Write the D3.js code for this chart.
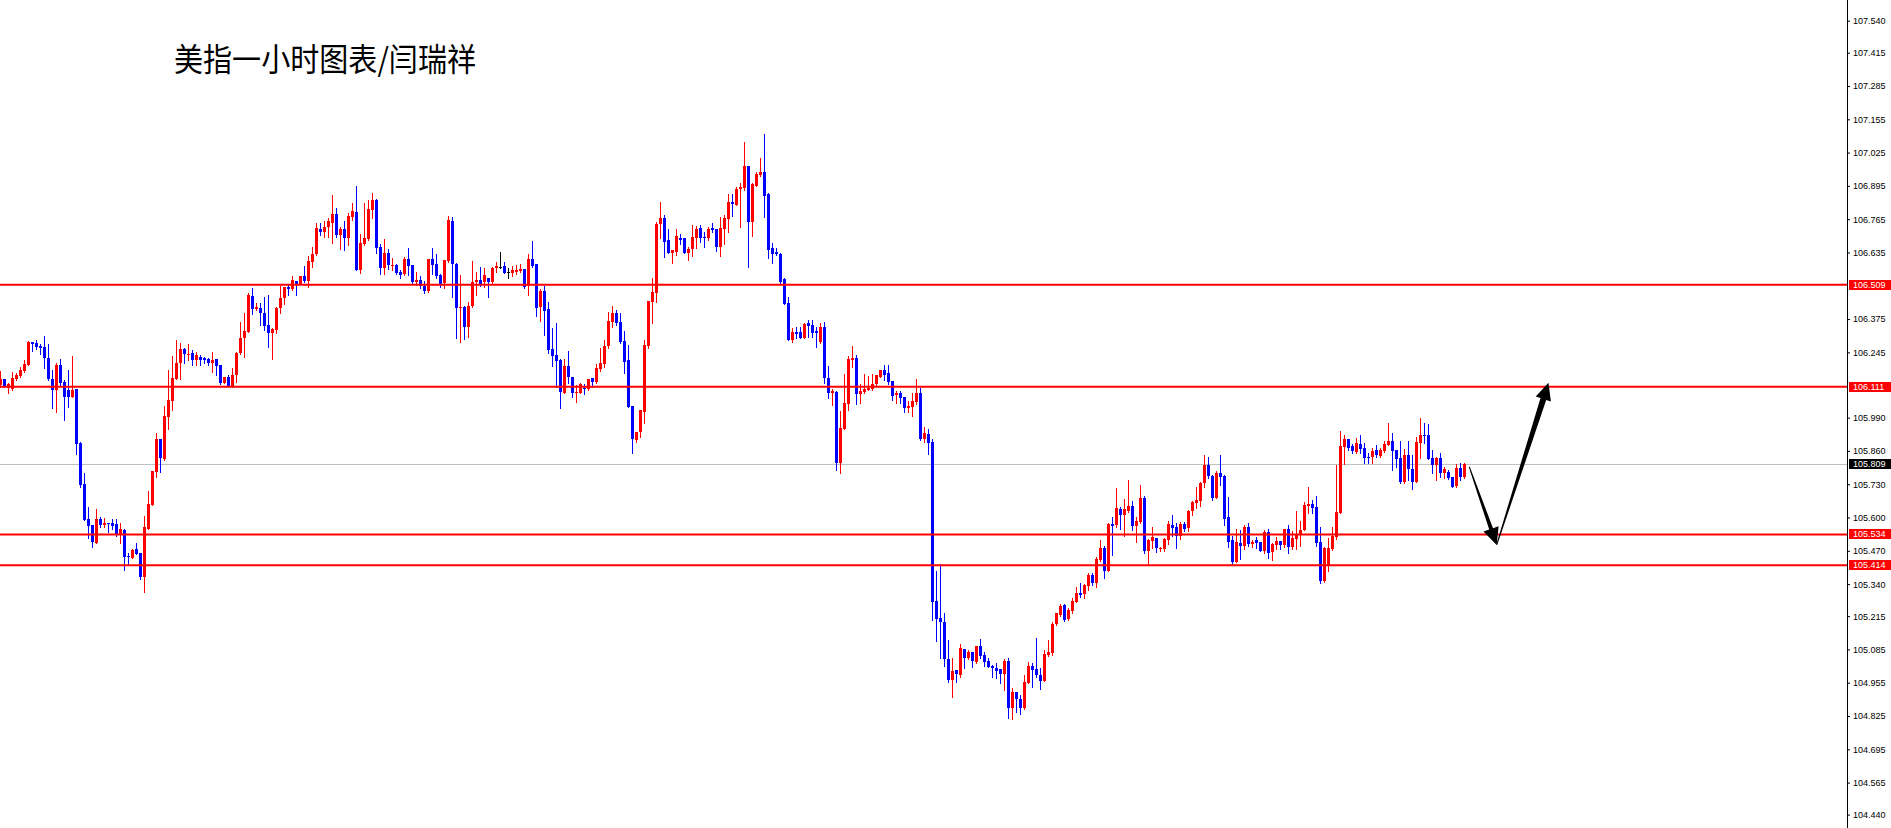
<!DOCTYPE html>
<html><head><meta charset="utf-8">
<script src="https://cdn.jsdelivr.net/npm/d3@7"></script>
<style>html,body{margin:0;padding:0;background:#fff;overflow:hidden}</style>
</head><body>
<svg id="chart" width="1891" height="828"></svg>
<script>
const chartTitle = "美指一小时图表/闫瑞祥";

const openP = [
106.117,106.142,106.104,106.100,106.141,106.152,106.173,106.197,106.284,106.280,
106.271,106.267,106.223,106.141,106.098,106.195,106.128,106.098,106.072,106.102,
105.892,105.731,105.594,105.571,105.502,105.594,105.571,105.578,105.577,105.573,
105.530,105.551,105.450,105.443,105.477,105.463,105.369,105.555,105.650,105.779,
105.906,105.830,105.994,106.056,106.142,106.202,106.258,106.236,106.241,106.215,
106.226,106.222,106.219,106.205,106.218,106.196,106.127,106.150,106.114,106.157,
106.241,106.300,106.326,106.466,106.416,106.419,106.400,106.352,106.322,106.332,
106.419,106.456,106.501,106.492,106.524,106.512,106.543,106.524,106.599,106.628,
106.727,106.716,106.733,106.751,106.785,106.703,106.727,106.693,106.775,106.794,
106.567,106.667,106.686,106.801,106.840,106.655,106.573,106.634,106.582,106.586,
106.559,106.551,106.609,106.586,106.521,106.528,106.504,106.486,106.608,106.590,
106.547,106.515,106.602,106.758,106.590,106.420,106.423,106.345,106.426,106.521,
106.528,106.519,106.534,106.521,106.573,106.580,106.582,106.559,106.556,106.560,
106.563,106.569,106.504,106.608,106.590,106.421,106.486,106.414,106.258,106.235,
106.215,106.088,106.192,106.148,106.088,106.088,106.105,106.101,106.144,106.131,
106.179,106.200,106.270,106.365,106.397,106.365,106.289,106.215,106.035,105.903,
105.933,106.013,106.270,106.443,106.478,106.745,106.768,106.684,106.634,106.638,
106.690,106.693,106.634,106.647,106.693,106.729,106.697,106.690,106.732,106.727,
106.658,106.725,106.766,106.831,106.820,106.881,106.888,106.973,106.755,106.896,
106.937,106.948,106.863,106.651,106.638,106.629,106.531,106.436,106.293,106.323,
106.323,106.300,106.358,106.350,106.330,106.287,106.345,106.143,106.085,106.091,
105.814,105.945,106.043,106.215,106.221,106.081,106.091,106.098,106.100,106.120,
106.150,106.178,106.163,106.133,106.078,106.087,106.072,106.029,106.033,106.052,
106.085,105.905,105.925,105.896,105.274,105.206,105.191,105.046,104.966,105.005,
104.985,105.087,105.050,105.074,105.037,105.098,105.063,105.040,105.020,105.014,
105.007,104.988,105.041,104.855,104.917,104.891,104.857,104.955,105.020,105.008,
104.985,104.963,105.063,105.072,105.183,105.219,105.258,105.202,105.236,105.271,
105.304,105.300,105.334,105.376,105.346,105.434,105.482,105.392,105.575,105.571,
105.632,105.610,105.625,105.645,105.568,105.584,105.675,105.469,105.508,105.519,
105.476,105.477,105.512,105.571,105.562,105.528,105.575,105.558,105.625,105.658,
105.666,105.734,105.805,105.763,105.678,105.773,105.762,105.601,105.512,105.428,
105.499,105.490,105.562,105.497,105.512,105.503,105.471,105.542,105.467,105.493,
105.508,105.493,105.555,105.486,105.516,105.532,105.551,105.645,105.653,105.640,
105.503,105.352,105.411,105.476,105.525,105.619,105.877,105.907,105.879,105.857,
105.887,105.870,105.838,105.835,105.864,105.842,105.860,105.883,105.899,105.864,
105.831,105.740,105.844,105.790,105.740,105.892,105.922,105.922,105.831,105.805,
105.834,105.773,105.778,105.757,105.723,105.792,105.757];

const highP = [
106.171,106.142,106.124,106.167,106.165,106.189,106.217,106.289,106.284,106.293,
106.277,106.309,106.277,106.176,106.202,106.219,106.137,106.176,106.230,106.102,
105.896,105.772,105.642,105.571,105.632,105.603,105.597,105.578,105.594,105.594,
105.580,105.554,105.463,105.476,105.499,105.463,105.607,105.703,105.781,105.930,
105.906,106.035,106.178,106.230,106.293,106.283,106.263,106.277,106.254,106.248,
106.235,106.228,106.222,106.245,106.218,106.196,106.150,106.157,106.183,106.248,
106.365,106.397,106.478,106.498,106.439,106.436,106.460,106.469,106.339,106.423,
106.504,106.501,106.508,106.544,106.524,106.543,106.582,106.621,106.658,106.749,
106.749,106.759,106.768,106.861,106.807,106.733,106.758,106.788,106.827,106.896,
106.707,106.827,106.840,106.869,106.844,106.668,106.686,106.647,106.612,106.590,
106.567,106.616,106.651,106.586,106.560,106.543,106.524,106.608,106.654,106.629,
106.551,106.606,106.778,106.772,106.593,106.547,106.426,106.443,106.602,106.560,
106.580,106.573,106.534,106.580,106.599,106.637,106.599,106.576,106.582,106.586,
106.590,106.569,106.629,106.680,106.590,106.492,106.505,106.443,106.341,106.361,
106.218,106.218,106.250,106.148,106.118,106.124,106.121,106.140,106.144,106.200,
106.261,106.293,106.401,106.426,106.410,106.400,106.328,106.274,106.035,105.935,
106.020,106.293,106.445,106.534,106.755,106.831,106.781,106.727,106.645,106.727,
106.707,106.693,106.658,106.742,106.740,106.742,106.714,106.736,106.749,106.727,
106.772,106.781,106.862,106.862,106.892,106.907,107.068,106.973,106.905,106.950,
107.003,107.098,106.866,106.671,106.654,106.632,106.534,106.462,106.341,106.345,
106.345,106.361,106.371,106.372,106.345,106.360,106.362,106.191,106.100,106.094,
106.016,106.159,106.230,106.270,106.234,106.121,106.159,106.152,106.159,106.156,
106.178,106.195,106.195,106.133,106.094,106.094,106.072,106.055,106.085,106.141,
106.104,105.952,105.944,105.905,105.391,105.419,105.229,105.122,105.050,105.005,
105.106,105.087,105.083,105.076,105.098,105.126,105.076,105.050,105.024,105.031,
105.007,105.046,105.050,104.936,104.917,104.907,104.985,105.035,105.031,105.128,
105.014,105.083,105.122,105.193,105.226,105.262,105.262,105.245,105.284,105.330,
105.343,105.340,105.382,105.385,105.445,105.512,105.489,105.580,105.601,105.717,
105.642,105.672,105.746,105.665,105.601,105.727,105.684,105.516,105.562,105.519,
105.486,105.519,105.588,105.610,105.577,105.584,105.584,105.629,105.666,105.718,
105.740,105.844,105.835,105.766,105.783,105.844,105.766,105.679,105.528,105.555,
105.551,105.571,105.577,105.512,105.523,105.506,105.551,105.554,105.499,105.523,
105.508,105.555,105.571,105.549,105.626,105.586,105.659,105.718,105.669,105.684,
105.562,105.486,105.519,105.564,105.805,105.938,105.922,105.907,105.886,105.909,
105.922,105.890,105.851,105.870,105.883,105.870,105.900,105.970,105.931,105.864,
105.900,105.866,105.899,105.844,105.916,105.987,105.970,105.964,105.864,105.838,
105.851,105.799,105.786,105.760,105.809,105.812,105.812];

const lowP = [
106.111,106.111,106.085,106.098,106.137,106.147,106.169,106.197,106.251,106.257,
106.238,106.182,106.137,106.029,106.013,106.117,105.981,106.033,106.072,105.850,
105.718,105.590,105.522,105.483,105.499,105.564,105.564,105.545,105.554,105.528,
105.499,105.397,105.414,105.443,105.456,105.361,105.310,105.555,105.650,105.757,
105.779,105.824,105.947,106.020,106.141,106.139,106.202,106.217,106.196,106.196,
106.196,106.202,106.196,106.170,106.157,106.121,106.124,106.114,106.111,106.131,
106.239,106.226,106.326,106.395,106.410,106.352,106.332,106.265,106.219,106.322,
106.400,106.432,106.469,106.488,106.469,106.512,106.521,106.499,106.577,106.625,
106.703,106.697,106.694,106.671,106.694,106.649,106.645,106.664,106.762,106.567,
106.554,106.664,106.684,106.768,106.632,106.550,106.551,106.569,106.567,106.551,
106.534,106.547,106.547,106.512,106.508,106.495,106.478,106.482,106.551,106.537,
106.499,106.495,106.599,106.463,106.302,106.287,106.296,106.306,106.421,106.469,
106.504,106.502,106.463,106.517,106.560,106.573,106.556,106.537,106.543,106.550,
106.560,106.498,106.469,106.580,106.387,106.369,106.313,106.241,106.193,106.111,
106.029,106.085,106.124,106.072,106.053,106.085,106.082,106.098,106.111,106.124,
106.172,106.189,106.261,106.345,106.352,106.280,106.166,106.033,105.853,105.896,
105.916,105.968,106.263,106.358,106.443,106.693,106.619,106.632,106.593,106.625,
106.667,106.632,106.605,106.621,106.654,106.677,106.658,106.684,106.716,106.641,
106.621,106.668,106.716,106.779,106.820,106.733,106.879,106.580,106.701,106.895,
106.934,106.775,106.615,106.593,106.625,106.517,106.434,106.293,106.284,106.300,
106.300,106.300,106.306,106.306,106.264,106.280,106.126,106.065,106.039,105.785,
105.775,105.945,106.020,106.189,106.043,106.046,106.085,106.098,106.098,106.117,
106.150,106.137,106.121,106.059,106.048,106.048,106.013,106.013,105.997,106.043,
105.902,105.893,105.850,105.200,105.119,105.050,105.020,104.959,104.901,104.959,
104.976,105.011,105.046,105.018,105.031,105.050,105.020,105.015,104.979,104.972,
104.955,104.926,104.816,104.812,104.842,104.831,104.851,104.953,104.940,104.979,
104.929,104.963,105.059,105.063,105.180,105.217,105.197,105.200,105.226,105.269,
105.288,105.284,105.317,105.337,105.330,105.432,105.363,105.392,105.454,105.562,
105.554,105.529,105.623,105.551,105.506,105.577,105.460,105.415,105.480,105.467,
105.471,105.471,105.495,105.528,105.482,105.515,105.549,105.549,105.610,105.636,
105.645,105.721,105.756,105.669,105.678,105.727,105.571,105.486,105.415,105.428,
105.437,105.477,105.490,105.486,105.482,105.471,105.460,105.441,105.434,105.476,
105.476,105.486,105.463,105.476,105.476,105.489,105.551,105.619,105.619,105.489,
105.343,105.350,105.393,105.473,105.515,105.619,105.809,105.864,105.851,105.851,
105.853,105.814,105.814,105.814,105.838,105.838,105.857,105.883,105.786,105.796,
105.734,105.734,105.747,105.710,105.737,105.831,105.890,105.827,105.775,105.747,
105.757,105.753,105.750,105.718,105.721,105.747,105.753];

const closeP = [
106.139,106.115,106.120,106.143,106.156,106.176,106.199,106.284,106.277,106.267,
106.263,106.221,106.139,106.098,106.195,106.124,106.072,106.072,106.098,105.889,
105.727,105.590,105.567,105.503,105.594,105.571,105.580,105.573,105.567,105.532,
105.555,105.447,105.446,105.473,105.457,105.369,105.563,105.653,105.781,105.906,
105.834,105.996,106.059,106.143,106.204,106.260,106.237,106.239,106.215,106.235,
106.215,106.215,106.205,106.215,106.193,106.127,106.150,106.114,106.157,106.244,
106.302,106.330,106.469,106.414,106.423,106.397,106.349,106.319,106.336,106.419,
106.459,106.501,106.492,106.527,106.512,106.543,106.525,106.603,106.629,106.732,
106.716,106.736,106.759,106.785,106.703,106.728,106.693,106.777,106.797,106.567,
106.671,106.690,106.805,106.840,106.654,106.573,106.634,106.586,106.586,106.556,
106.547,106.609,106.583,106.521,106.528,106.504,106.486,106.608,106.586,106.543,
106.512,106.606,106.762,106.589,106.420,106.423,106.345,106.426,106.521,106.528,
106.511,106.547,106.521,106.573,106.582,106.580,106.556,106.559,106.567,106.567,
106.569,106.502,106.608,106.584,106.420,106.486,106.408,106.254,106.232,106.211,
106.092,106.192,106.148,106.088,106.092,106.120,106.101,106.140,106.131,106.183,
106.202,106.270,106.368,106.397,106.361,106.284,106.209,106.033,105.905,105.935,
106.020,106.274,106.445,106.482,106.746,106.768,106.677,106.634,106.645,106.699,
106.684,106.634,106.647,106.694,106.727,106.693,106.690,106.727,106.723,106.658,
106.732,106.768,106.831,106.824,106.883,106.892,106.973,106.755,106.901,106.940,
106.950,106.857,106.645,106.629,106.628,106.521,106.434,106.293,106.323,106.315,
106.300,106.354,106.348,106.322,106.322,106.345,106.143,106.085,106.094,105.814,
105.948,106.046,106.219,106.221,106.081,106.094,106.100,106.104,106.121,106.156,
106.176,106.156,106.130,106.076,106.087,106.068,106.029,106.035,106.055,106.085,
105.906,105.929,105.892,105.269,105.203,105.193,105.046,104.966,105.001,104.988,
105.092,105.053,105.074,105.040,105.098,105.059,105.037,105.018,105.011,105.002,
104.988,105.041,104.857,104.917,104.890,104.857,104.956,105.020,105.005,104.985,
104.963,105.067,105.076,105.184,105.226,105.256,105.200,105.239,105.274,105.304,
105.297,105.336,105.376,105.343,105.438,105.482,105.392,105.575,105.567,105.636,
105.610,105.633,105.645,105.568,105.586,105.675,105.471,105.512,105.525,105.480,
105.482,105.516,105.575,105.560,105.529,105.575,105.555,105.625,105.662,105.669,
105.736,105.805,105.763,105.675,105.773,105.760,105.594,105.506,105.428,105.503,
105.490,105.562,105.497,105.503,105.502,105.471,105.542,105.463,105.495,105.508,
105.493,105.555,105.486,105.519,105.534,105.551,105.649,105.653,105.639,105.502,
105.353,105.482,105.482,105.528,105.623,105.879,105.907,105.870,105.861,105.890,
105.866,105.834,105.834,105.860,105.844,105.864,105.887,105.899,105.861,105.827,
105.740,105.844,105.788,105.740,105.894,105.922,105.918,105.827,105.805,105.834,
105.773,105.788,105.753,105.721,105.792,105.760,105.809];

const levelPrices = [106.509, 106.111, 105.534, 105.414];
const levelLabels = ["106.509", "106.111", "105.534", "105.414"];
const lastPrice = 105.809;
const lastPriceLabel = "105.809";

const tickLabels = ["107.540","107.415","107.285","107.155","107.025","106.895","106.765","106.635",
  "106.375","106.245","105.990","105.860","105.730","105.600","105.470","105.340","105.215",
  "105.085","104.955","104.825","104.695","104.565","104.440"];

// hand-drawn arrows: [bar index, price]
const arrowDown = [[367.2, 105.798], [374.05, 105.493]];
const arrowUp = [[374.05, 105.493], [387.0, 106.126]];

const W = 1891, H = 828, axisX = 1847;
const svg = d3.select("#chart");

const x = d3.scaleLinear().domain([0, 461.5]).range([0.5, 1846.5]);
const y = d3.scaleLinear().domain([104.440, 107.540]).range([814.6, 20.7]);

const bars = openP.map((o, i) => ({i, o, h: highP[i], l: lowP[i], c: closeP[i]}));
const colorOf = d => d.c > d.o ? "#ff0000" : (d.c < d.o ? "#0000ff" : "#000000");

// last price line (behind candles)
svg.append("line").attr("x1", 0).attr("x2", axisX)
  .attr("y1", Math.round(y(lastPrice)) + 0.5).attr("y2", Math.round(y(lastPrice)) + 0.5)
  .attr("stroke", "#c0c0c0").attr("stroke-width", 1);

const gC = svg.append("g").attr("shape-rendering", "crispEdges");
gC.selectAll("rect.wick").data(bars).join("rect").attr("class", "wick")
  .attr("x", d => Math.round(x(d.i) - 0.5))
  .attr("width", 1)
  .attr("y", d => Math.round(y(d.h)))
  .attr("height", d => Math.max(1, Math.round(y(d.l)) - Math.round(y(d.h)) + 1))
  .attr("fill", colorOf);
gC.selectAll("rect.body").data(bars).join("rect").attr("class", "body")
  .attr("x", d => Math.round(x(d.i) - 0.5) - 1)
  .attr("width", 3)
  .attr("y", d => Math.round(y(Math.max(d.o, d.c))))
  .attr("height", d => Math.max(1, Math.round(y(Math.min(d.o, d.c))) - Math.round(y(Math.max(d.o, d.c)))))
  .attr("fill", colorOf);

// horizontal levels
svg.append("g").selectAll("line").data(levelPrices).join("line")
  .attr("x1", 0).attr("x2", axisX)
  .attr("y1", d => y(d)).attr("y2", d => y(d))
  .attr("stroke", "#ff0000").attr("stroke-width", 2);

// arrows
function arrowPath(pts, shaftW) {
  const S = [x(pts[0][0]), y(pts[0][1])], T = [x(pts[1][0]), y(pts[1][1])];
  const dx = T[0] - S[0], dy = T[1] - S[1], len = Math.hypot(dx, dy);
  const ux = dx / len, uy = dy / len, px = -uy, py = ux;
  const hl = 17, hw = 8;
  const B = [T[0] - ux * hl, T[1] - uy * hl];
  const p = [
    [S[0] + px * 0.5, S[1] + py * 0.5],
    [B[0] + px * shaftW / 2, B[1] + py * shaftW / 2],
    [B[0] + px * hw, B[1] + py * hw],
    T,
    [B[0] - px * hw, B[1] - py * hw],
    [B[0] - px * shaftW / 2, B[1] - py * shaftW / 2],
    [S[0] - px * 0.5, S[1] - py * 0.5]
  ];
  return "M" + p.map(q => q[0].toFixed(1) + "," + q[1].toFixed(1)).join("L") + "Z";
}
svg.append("path").attr("d", arrowPath(arrowDown, 4)).attr("fill", "#000");
svg.append("path").attr("d", arrowPath(arrowUp, 6)).attr("fill", "#000");

// right price axis
svg.append("rect").attr("x", axisX).attr("y", 0).attr("width", W - axisX).attr("height", H).attr("fill", "#fff");
svg.append("line").attr("x1", axisX + 0.5).attr("x2", axisX + 0.5).attr("y1", 0).attr("y2", H)
  .attr("stroke", "#000").attr("stroke-width", 1);
const tickVals = tickLabels.map(Number);
const axis = d3.axisRight(y).tickValues(tickVals).tickFormat((d, i) => tickLabels[i]).tickSize(3).tickPadding(3);
const gA = svg.append("g").attr("transform", `translate(${axisX},0)`).call(axis);
gA.select(".domain").remove();
gA.attr("font-family", "'Liberation Sans', Arial, sans-serif").attr("font-size", 9);
gA.selectAll("text").attr("fill", "#000");
gA.selectAll("line").attr("stroke", "#000");

// price tags
const tags = levelPrices.map((v, i) => ({v, t: levelLabels[i], bg: "#ff0000"}))
  .concat([{v: lastPrice, t: lastPriceLabel, bg: "#000000"}]);
const gT = svg.append("g");
gT.selectAll("rect").data(tags).join("rect")
  .attr("x", axisX + 2).attr("width", W - axisX - 2)
  .attr("y", d => Math.round(y(d.v)) - 5).attr("height", 10)
  .attr("fill", d => d.bg).attr("shape-rendering", "crispEdges");
gT.selectAll("text").data(tags).join("text")
  .attr("x", axisX + 6).attr("y", d => y(d.v)).attr("dy", "0.34em")
  .attr("font-family", "'Liberation Sans', Arial, sans-serif").attr("font-size", 9)
  .attr("fill", "#fff").text(d => d.t);

// title
svg.append("text").attr("x", 174).attr("y", 71)
  .attr("font-family", "'Noto Sans CJK SC', sans-serif").attr("font-size", 32)
  .attr("textLength", 302).attr("lengthAdjust", "spacingAndGlyphs")
  .attr("fill", "#000").text(chartTitle);
</script>
</body></html>
